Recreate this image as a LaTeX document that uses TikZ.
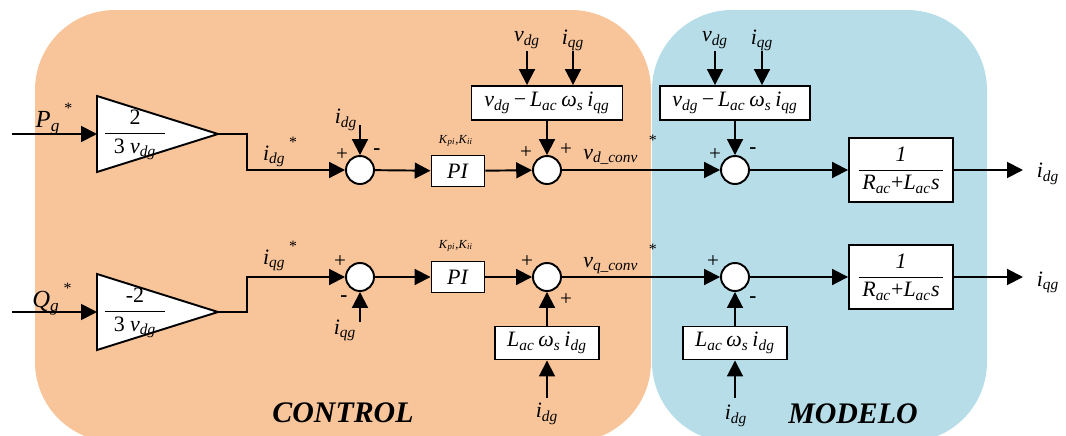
\documentclass[tikz,border=0pt]{standalone}
\usepackage{amsmath}
\usepackage{fontspec}
\setmainfont{Liberation Serif}
\usepackage{tikz}
\usetikzlibrary{arrows.meta,positioning,calc}
\definecolor{ctrlorange}{RGB}{248,197,155}
\definecolor{modelblue}{RGB}{183,222,232}
\newcommand{\sig}[2]{\textit{#1}\textsubscript{\textit{#2}}}
\newcommand{\starup}{\raisebox{1.3ex}{\small *}}
\newcommand{\decterm}{\sig{v}{dg}\,−\,\sig{L}{ac}\,\textit{ω}\textsubscript{\textit{s}}\,\sig{i}{qg}}
\newcommand{\crossterm}{\sig{L}{ac}\,\textit{ω}\textsubscript{\textit{s}}\,\sig{i}{dg}}
\newcommand{\plantfrac}{$\dfrac{\text{\textit{1}}}{\text{\,\sig{R}{ac}+\sig{L}{ac}\textit{s}\,}}$}

\begin{document}
\begin{tikzpicture}[x=0.02cm, y=-0.02cm, line width=1.1pt,
  arr/.style={-{Triangle[length=9pt,width=9pt]}},
  every node/.style={font=\fontsize{12.5}{14}\selectfont},
  blk/.style={draw, fill=white, inner sep=2pt},
  sumc/.style={draw, circle, fill=white, minimum size=0.56cm, inner sep=0pt},
  sgn/.style={font=\fontsize{12}{12}\selectfont, inner sep=0pt},
  gain/.style={draw, fill=white, line join=miter},
  inlbl/.style={font=\fontsize{14}{16}\selectfont},
  kpi/.style={font=\fontsize{7}{8}\selectfont},
  area/.style={font=\fontsize{17}{20}\selectfont\bfseries\itshape}]
\useasboundingbox (0,0) rectangle (1066,436);
\begin{scope}
\clip (0,0) rectangle (1066,436);
\fill[ctrlorange, rounded corners=1.6cm] (35,10) rectangle (651,442);
\fill[modelblue, rounded corners=1.6cm] (652,10) rectangle (987,442);
\end{scope}

\draw[gain] (97,96) -- (218,134) -- (97,172) -- cycle;
\draw[gain] (97,274) -- (218,312) -- (97,350) -- cycle;
\coordinate (gp-in) at (97,134);
\coordinate (gp-out) at (218,134);
\coordinate (gq-in) at (97,312);
\coordinate (gq-out) at (218,312);
\node (gp) at (135,135) {$\dfrac{\text{2}}{\text{\hspace{5pt}3 \sig{v}{dg}\hspace{5pt}}}$};
\node (gq) at (135,313) {$\dfrac{\text{-2}}{\text{\hspace{5pt}3 \sig{v}{dg}\hspace{5pt}}}$};

\node[sumc] (s1) at (360,170) {};
\node[blk, minimum width=1.06cm, minimum height=0.62cm] (pi1) at (458,171) {\textit{PI}};
\node[sumc] (s2) at (547,170) {};
\node[blk, minimum width=3.02cm, minimum height=0.68cm] (dec1) at (547,103) {\decterm};
\node[sumc] (s3) at (735,170) {};
\node[blk, minimum width=3.0cm, minimum height=0.68cm] (dec2) at (735,103) {\decterm};
\node[blk, minimum width=2.08cm, minimum height=1.28cm] (pl1) at (901,170) {\plantfrac};

\node[sumc] (s4) at (360,277) {};
\node[blk, minimum width=1.06cm, minimum height=0.62cm] (pi2) at (458,277) {\textit{PI}};
\node[sumc] (s5) at (547,277) {};
\node[blk, minimum width=2.08cm, minimum height=0.66cm] (lw1) at (547,343) {\crossterm};
\node[sumc] (s6) at (735,277) {};
\node[blk, minimum width=2.08cm, minimum height=0.66cm] (lw2) at (735,343) {\crossterm};
\node[blk, minimum width=2.08cm, minimum height=1.28cm] (pl2) at (901,277) {\plantfrac};

\coordinate (pg-src) at (12,134);
\coordinate (qg-src) at (12,312);
\coordinate (idg-fb) at (360,125);
\coordinate (iqg-fb) at (360,322);
\coordinate (vdg1) at (527,51);
\coordinate (iqg1) at (573,51);
\coordinate (vdg2) at (715,51);
\coordinate (iqg2) at (762,51);
\coordinate (idg3) at (547,398);
\coordinate (idg4) at (735,398);
\coordinate (idg-out) at (1023,170);
\coordinate (iqg-out) at (1023,277);

\draw[arr] (pg-src) -- (gp-in);
\draw[arr] (qg-src) -- (gq-in);
\draw[arr] (gp-out) -- ++(29,0) |- (s1);
\draw[arr] (gq-out) -- ++(29,0) |- (s4);
\draw[arr] (idg-fb) -- (s1);
\draw[arr] (iqg-fb) -- (s4);
\draw[arr] (s1) -- (pi1);
\draw[arr] (s4) -- (pi2);
\draw[arr] (pi1) -- (s2);
\draw[arr] (pi2) -- (s5);
\draw[arr] (vdg1) -- (vdg1 |- dec1.north);
\draw[arr] (iqg1) -- (iqg1 |- dec1.north);
\draw[arr] (vdg2) -- (vdg2 |- dec2.north);
\draw[arr] (iqg2) -- (iqg2 |- dec2.north);
\draw[arr] (dec1) -- (s2);
\draw[arr] (dec2) -- (s3);
\draw[arr] (idg3) -- (lw1);
\draw[arr] (idg4) -- (lw2);
\draw[arr] (lw1) -- (s5);
\draw[arr] (lw2) -- (s6);
\draw[arr] (s2) -- (s3);
\draw[arr] (s5) -- (s6);
\draw[arr] (s3) -- (pl1);
\draw[arr] (s6) -- (pl2);
\draw[arr] (pl1) -- (idg-out);
\draw[arr] (pl2) -- (iqg-out);

\node[inlbl] at (54,119) {\textit{P}\textsubscript{\textit{g}}\,\starup};
\node[inlbl] at (52,299) {\textit{Q}\textsubscript{\textit{g}}\,\starup};
\node at (280,152) {\sig{i}{dg}\,\starup};
\node at (280,256) {\sig{i}{qg}\,\starup};
\node at (346,120) {\sig{i}{dg}};
\node at (345,330) {\sig{i}{qg}};
\node[kpi] at (456,141) {\sig{K}{pi},\sig{K}{ii}};
\node[kpi] at (456,246) {\sig{K}{pi},\sig{K}{ii}};
\node at (527,40) {\sig{v}{dg}};
\node at (573,40) {\sig{i}{qg}};
\node at (715,40) {\sig{v}{dg}};
\node at (762,40) {\sig{i}{qg}};
\node at (620,150) {\sig{v}{d\_conv}\hspace{6pt}\starup};
\node at (620,259) {\sig{v}{q\_conv}\hspace{6pt}\starup};
\node at (547,414) {\sig{i}{dg}};
\node at (736,416) {\sig{i}{dg}};
\node at (1048,174) {\sig{i}{dg}};
\node at (1048,282) {\sig{i}{qg}};

\node[sgn] at (342,155) {+};
\node[sgn] at (377,152) {\textbf{-}};
\node[sgn] at (526,153) {+};
\node[sgn] at (566,150) {+};
\node[sgn] at (715,155) {+};
\node[sgn] at (753,151) {\textbf{-}};
\node[sgn] at (340,262) {+};
\node[sgn] at (344,299) {\textbf{-}};
\node[sgn] at (527,262) {+};
\node[sgn] at (566,300) {+};
\node[sgn] at (713,262) {+};
\node[sgn] at (753,300) {\textbf{-}};

\node[area] at (343,413) {CONTROL};
\node[area] at (853,414) {MODELO};
\end{tikzpicture}
\end{document}
